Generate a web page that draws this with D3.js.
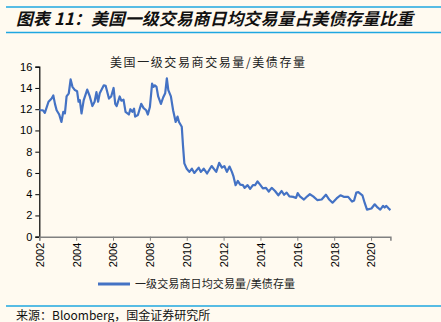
<!DOCTYPE html>
<html><head><meta charset="utf-8">
<script src="https://cdn.jsdelivr.net/npm/d3@7"></script>
<style>
html,body{margin:0;padding:0;background:#FFFAF0;}
svg{display:block;}
</style></head>
<body>
<svg id="c" width="441" height="322"></svg>
<script>
const titleText = "图表 11：美国一级交易商日均交易量占美债存量比重";
const chartTitle = "美国一级交易商交易量/美债存量";
const legendLabel = "一级交易商日均交易量/美债存量";
const sourceText = "来源：Bloomberg，国金证券研究所";
const yTicks = [0,2,4,6,8,10,12,14,16];
const xTicks = [2002,2004,2006,2008,2010,2012,2014,2016,2018,2020];
const dates = [2002.0,2002.2,2002.3,2002.5,2002.67,2002.76,2002.85,2002.94,2003.08,2003.2,2003.3,2003.39,2003.48,2003.6,2003.7,2003.8,2003.93,2004.05,2004.13,2004.2,2004.29,2004.41,2004.6,2004.74,2004.88,2005.0,2005.1,2005.19,2005.28,2005.5,2005.6,2005.78,2005.9,2006.03,2006.12,2006.2,2006.36,2006.45,2006.57,2006.68,2006.86,2006.94,2007.05,2007.14,2007.2,2007.35,2007.53,2007.66,2007.8,2007.89,2008.0,2008.12,2008.2,2008.27,2008.36,2008.45,2008.6,2008.72,2008.83,2008.92,2009.0,2009.14,2009.26,2009.4,2009.5,2009.58,2009.73,2009.8,2009.87,2010.0,2010.14,2010.28,2010.41,2010.65,2010.77,2010.92,2011.1,2011.35,2011.6,2011.76,2011.91,2012.04,2012.18,2012.32,2012.45,2012.54,2012.65,2012.77,2012.9,2013.05,2013.14,2013.3,2013.44,2013.59,2013.71,2013.84,2013.98,2014.13,2014.3,2014.45,2014.61,2014.79,2014.97,2015.15,2015.28,2015.42,2015.57,2015.78,2015.93,2016.02,2016.14,2016.36,2016.54,2016.68,2016.86,2017.08,2017.32,2017.55,2017.73,2017.91,2018.13,2018.34,2018.52,2018.76,2018.97,2019.08,2019.2,2019.31,2019.53,2019.66,2019.78,2020.02,2020.2,2020.35,2020.5,2020.65,2020.74,2020.83,2020.96,2021.05];
const values = [11.9,11.9,11.65,12.7,13.0,13.3,12.5,11.9,11.5,10.8,11.75,11.6,13.2,13.5,14.8,14.1,13.8,13.7,12.7,12.85,11.6,12.85,13.85,13.2,12.3,12.7,13.6,12.7,13.5,14.25,14.2,13.0,13.2,14.0,12.5,12.3,13.2,12.8,12.9,11.75,11.5,12.0,11.75,12.05,11.3,11.45,12.5,12.1,11.9,11.5,12.2,14.4,14.1,14.25,14.1,13.2,12.5,13.1,13.5,14.9,13.8,13.2,11.9,10.8,11.3,10.8,10.35,8.5,6.9,6.4,6.1,6.4,6.0,6.5,6.1,6.4,5.95,6.65,6.1,6.95,6.5,6.65,6.1,6.6,6.1,5.65,4.85,5.25,4.9,4.85,4.6,4.85,4.5,4.85,4.85,5.2,4.9,4.55,4.6,4.25,4.6,4.3,3.9,4.3,3.95,4.15,3.8,3.75,3.65,4.1,3.8,3.5,3.8,4.0,3.8,3.45,3.5,3.95,3.5,3.2,3.6,3.9,3.75,3.75,3.3,3.4,4.15,4.2,3.9,3.15,2.55,2.65,3.05,2.75,2.55,2.9,2.75,2.9,2.65,2.5];

const svg = d3.select("#c");
const blue = "#4472C4";
const rule = "#1FA7E1";

svg.append("line").attr("x1",6).attr("x2",441).attr("y1",7).attr("y2",7).attr("stroke",rule).attr("stroke-width",1.5);
svg.append("line").attr("x1",6).attr("x2",441).attr("y1",32.5).attr("y2",32.5).attr("stroke",rule).attr("stroke-width",1.5);
svg.append("text").attr("x",16).attr("y",25).text(titleText)
  .attr("font-family","'Noto Sans CJK SC', sans-serif").attr("font-size",16.8).attr("font-weight","bold").attr("font-style","italic").attr("fill","#111")
  .attr("textLength",397).attr("lengthAdjust","spacing");

svg.append("text").attr("x",110).attr("y",67).text(chartTitle)
  .attr("font-family","'Noto Sans CJK SC', sans-serif").attr("font-size",12).attr("fill","#222")
  .attr("textLength",195).attr("lengthAdjust","spacing");

const x = d3.scaleLinear().domain([2002, 2021.05]).range([39.3, 390.4]);
const y = d3.scaleLinear().domain([0,16]).range([236.7, 66.7]);

const yAxis = svg.append("g").attr("transform","translate(39.3,0)")
  .call(d3.axisLeft(y).tickValues(yTicks).tickSize(4).tickPadding(3));
yAxis.select(".domain").attr("stroke","#000").attr("stroke-width",1.2);
yAxis.selectAll(".tick line").attr("stroke","#000");
yAxis.selectAll("text").attr("font-family","'Liberation Sans', Arial, sans-serif").attr("font-size",11).attr("fill","#000");

const xAxis = svg.append("g").attr("transform","translate(0,236.7)")
  .call(d3.axisBottom(x).tickValues(xTicks).tickSize(4).tickFormat(d3.format("d")));
xAxis.select(".domain").attr("stroke","#808080").attr("stroke-width",1.5);
xAxis.selectAll(".tick line").attr("stroke","#808080");
xAxis.selectAll("text").attr("font-family","'Liberation Sans', Arial, sans-serif").attr("font-size",11).attr("fill","#000")
  .attr("transform","rotate(-90)").attr("text-anchor","end").attr("x",-6).attr("y",0).attr("dy","0.35em");

const line = d3.line().x((d,i)=>x(dates[i])).y(d=>y(d)).curve(d3.curveLinear);
svg.append("path").datum(values).attr("d",line).attr("fill","none").attr("stroke",blue).attr("stroke-width",2.2).attr("stroke-linejoin","round");

svg.append("line").attr("x1",98).attr("x2",130).attr("y1",284).attr("y2",284).attr("stroke",blue).attr("stroke-width",3);
svg.append("text").attr("x",135).attr("y",288).text(legendLabel)
  .attr("font-family","'Noto Sans CJK SC', sans-serif").attr("font-size",11).attr("fill","#222")
  .attr("textLength",160).attr("lengthAdjust","spacing");

svg.append("line").attr("x1",6).attr("x2",441).attr("y1",306).attr("y2",306).attr("stroke",rule).attr("stroke-width",1.5);
svg.append("text").attr("x",16).attr("y",320).text(sourceText)
  .attr("font-family","'Noto Sans CJK SC', sans-serif").attr("font-size",12).attr("fill","#111");
</script>
</body></html>
